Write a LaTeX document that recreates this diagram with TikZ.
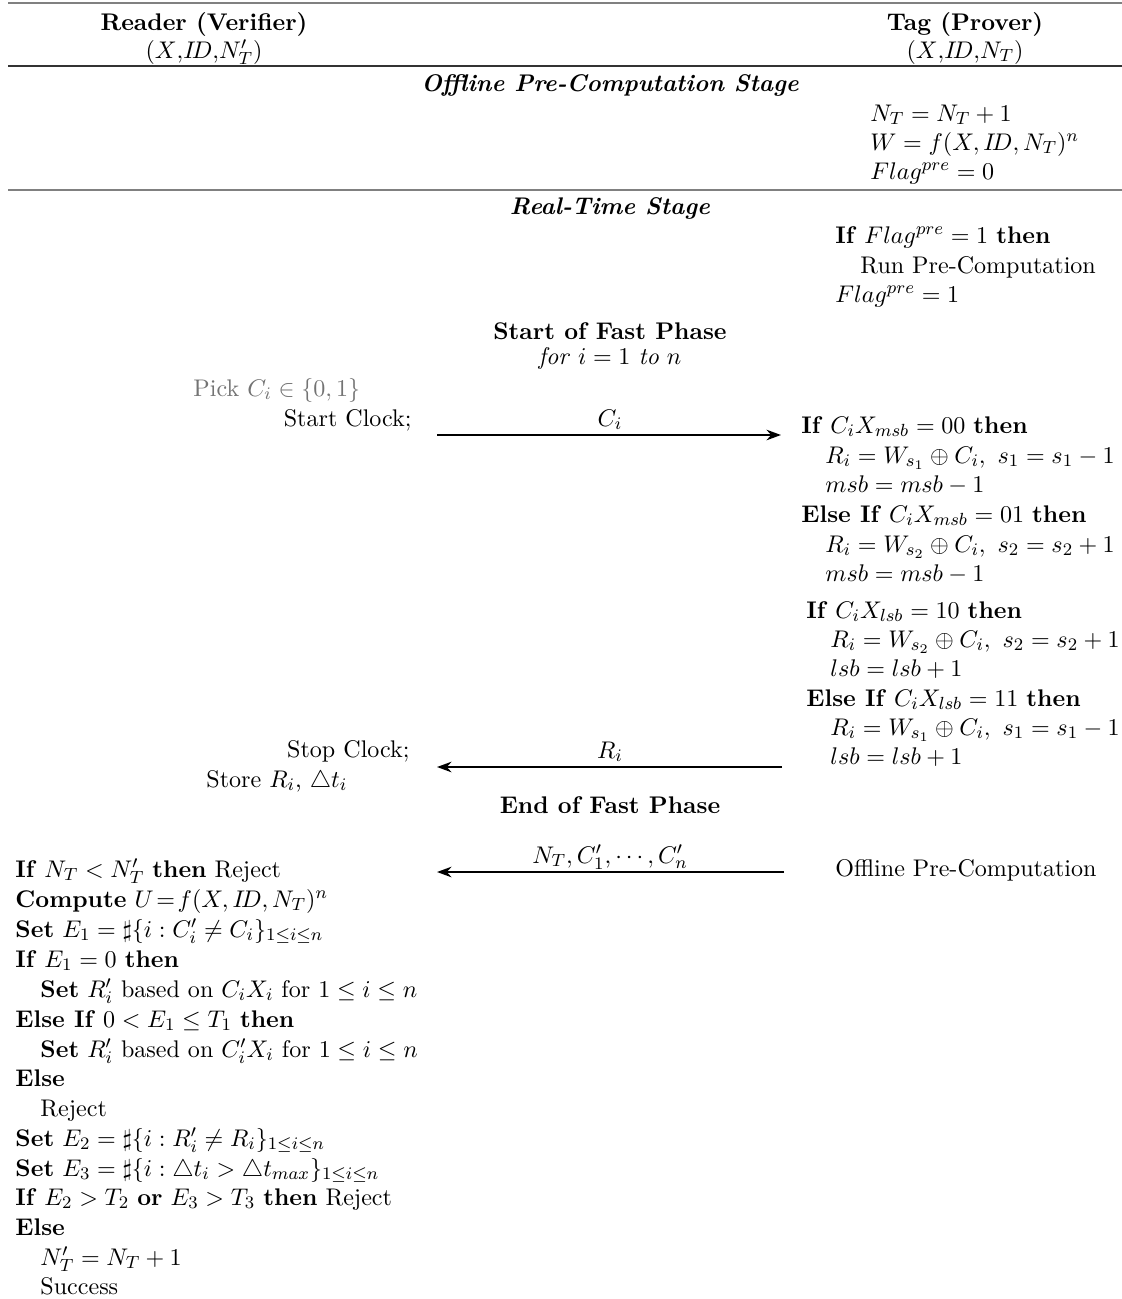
\documentclass[tikz,border=0pt]{standalone}
\usetikzlibrary{arrows.meta}
\begin{document}
\begin{tikzpicture}[x=0.455pt,y=-0.455pt,
  txt/.style={inner sep=0pt, font=\fontsize{10.95}{13.6}\selectfont},
  lt/.style={txt, anchor=base west},
  rt/.style={txt, anchor=base east},
  ct/.style={txt, anchor=base},
  rule/.style={line width=0.55pt},
  msg/.style={line width=1pt, -{Stealth[length=6.6pt,width=4.8pt]}}]
\useasboundingbox (0,0) rectangle (1122,1299);
% header
\draw[rule, gray] (8,3) -- (1122,3);
\node[ct] (rd) at (204,30) {\textbf{Reader (Verifier)}};
\node[ct] (rdk) at (204,58) {$(X{,}I\!D{,}N'_T)$};
\node[ct] (tg) at (965,30) {\textbf{Tag (Prover)}};
\node[ct] (tgk) at (965,58) {$(X{,}I\!D{,}N_T)$};
\draw[rule, black!80] (8,66) -- (1122,66);
% offline stage
\node[ct] (off) at (610,91) {\textbf{\textit{Offline Pre-Computation Stage}}};
\node[lt] (o1) at (870,121) {$N_T = N_T + 1$};
\node[lt] (o2) at (870,150) {$W = f(X,I\!D,N_T)^n$};
\node[lt] (o3) at (870,179) {$Flag^{pre} = 0$};
\draw[rule, gray] (8,190) -- (1122,190);
% real-time stage
\node[ct] (rts) at (610,214) {\textbf{\textit{Real-Time Stage}}};
\node[lt] (p1) at (835,243) {\textbf{If} $Flag^{pre} = 1$ \textbf{then}};
\node[lt] (p2) at (860,273) {Run Pre-Computation};
\node[lt] (p3) at (835,302) {$Flag^{pre} = 1$};
\node[ct] (sfp) at (610,339) {\textbf{Start of Fast Phase}};
\node[ct] (for) at (610,364) {\textit{for} $i=1$ \textit{to} $n$};
\node[lt, black!55] (pick) at (193,396) {Pick $C_i \in \{0,1\}$};
\node[rt] (sc) at (412,426) {Start Clock;};
% tag fast-phase
\node[lt] (t1) at (801,433) {\textbf{If} $C_iX_{msb} = 00$ \textbf{then}};
\node[lt] (t2) at (825,463) {$R_i = W_{s_1} \oplus C_i,\ s_1 = s_1 - 1$};
\node[lt] (t3) at (825,492) {$msb = msb - 1$};
\node[lt] (t4) at (801,522) {\textbf{Else If} $C_iX_{msb} = 01$ \textbf{then}};
\node[lt] (t5) at (825,552) {$R_i = W_{s_2} \oplus C_i,\ s_2 = s_2 + 1$};
\node[lt] (t6) at (825,581) {$msb = msb - 1$};
\node[lt] (t7) at (806,618) {\textbf{If} $C_iX_{lsb} = 10$ \textbf{then}};
\node[lt] (t8) at (830,647) {$R_i = W_{s_2} \oplus C_i,\ s_2 = s_2 + 1$};
\node[lt] (t9) at (830,676) {$lsb = lsb + 1$};
\node[lt] (t10) at (806,706) {\textbf{Else If} $C_iX_{lsb} = 11$ \textbf{then}};
\node[lt] (t11) at (830,735) {$R_i = W_{s_1} \oplus C_i,\ s_1 = s_1 - 1$};
\node[lt] (t12) at (830,764) {$lsb = lsb + 1$};
% messages fast phase
\coordinate (c1s) at (437,435);
\coordinate (c1e) at (781,435);
\draw[msg] (c1s) -- (c1e);
\node[ct] (c1l) at (610,426) {$C_i$};
\node[rt] (stc) at (410,757) {Stop Clock;};
\node[lt] (str) at (206,787) {Store $R_i$, $\triangle t_i$};
\coordinate (r1s) at (782,767);
\coordinate (r1e) at (437,767);
\draw[msg] (r1s) -- (r1e);
\node[ct] (r1l) at (610,758) {$R_i$};
\node[ct] (efp) at (610,813) {\textbf{End of Fast Phase}};
% final message
\coordinate (n1s) at (784,872);
\coordinate (n1e) at (437,872);
\draw[msg] (n1s) -- (n1e);
\node[ct] (n1l) at (610,863) {$N_T, C'_1, \cdots, C'_n$};
\node[lt] (opc) at (835,876) {Offline Pre-Computation};
% reader verification
\node[lt] (v1) at (15,877) {\textbf{If} $N_T < N'_T$ \textbf{then} Reject};
\node[lt] (v2) at (15,907) {\textbf{Compute} $U\!=\!f(X,I\!D,N_T)^n$};
\node[lt] (v3) at (15,937) {\textbf{Set} $E_1 = \sharp\{i : C'_i \neq C_i\}_{1\leq i\leq n}$};
\node[lt] (v4) at (15,967) {\textbf{If} $E_1 = 0$ \textbf{then}};
\node[lt] (v5) at (40,997) {\textbf{Set} $R'_i$ based on $C_iX_i$ for $1 \leq i \leq n$};
\node[lt] (v6) at (15,1027) {\textbf{Else If} $0 < E_1 \leq T_1$ \textbf{then}};
\node[lt] (v7) at (40,1057) {\textbf{Set} $R'_i$ based on $C'_iX_i$ for $1 \leq i \leq n$};
\node[lt] (v8) at (15,1086) {\textbf{Else}};
\node[lt] (v9) at (40,1116) {Reject};
\node[lt] (v10) at (15,1146) {\textbf{Set} $E_2 = \sharp\{i : R'_i \neq R_i\}_{1\leq i\leq n}$};
\node[lt] (v11) at (15,1176) {\textbf{Set} $E_3 = \sharp\{i : \triangle t_i > \triangle t_{max}\}_{1\leq i\leq n}$};
\node[lt] (v12) at (15,1205) {\textbf{If} $E_2 > T_2$ \textbf{or} $E_3 > T_3$ \textbf{then} Reject};
\node[lt] (v13) at (15,1235) {\textbf{Else}};
\node[lt] (v14) at (40,1265) {$N'_T = N_T + 1$};
\node[lt] (v15) at (40,1294) {Success};
\end{tikzpicture}
\end{document}
